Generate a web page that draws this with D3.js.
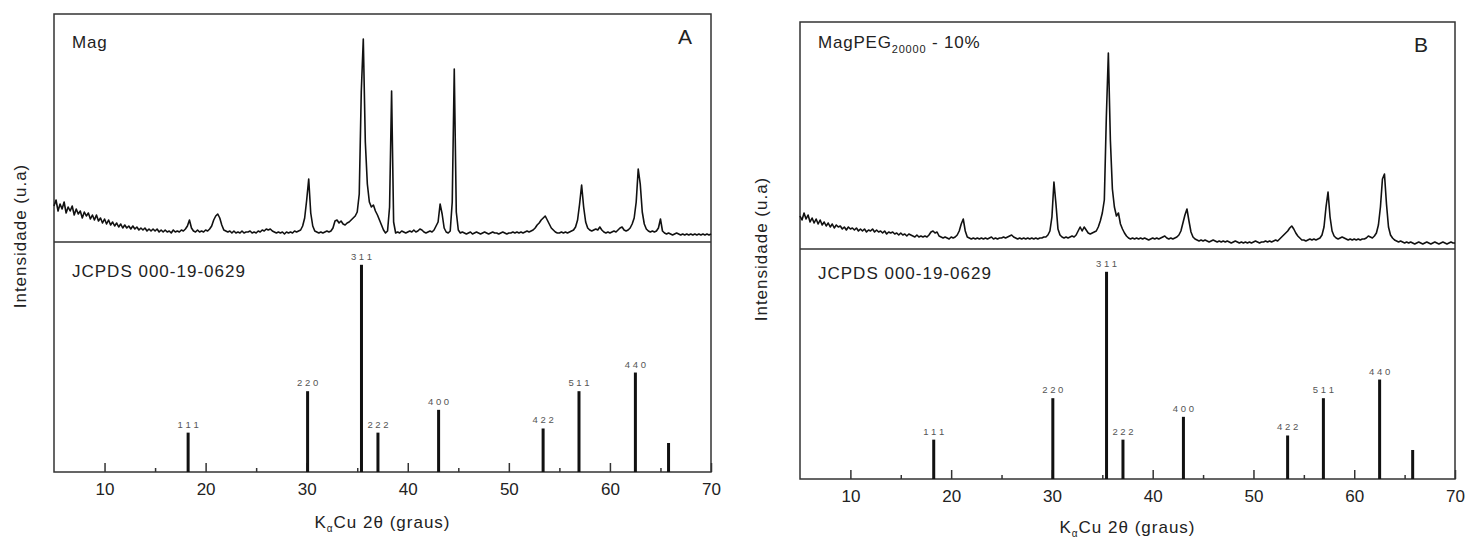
<!DOCTYPE html>
<html>
<head>
<meta charset="utf-8">
<script src="https://cdn.jsdelivr.net/npm/d3@7"></script>
<style>
  body { margin: 0; background: #fff; }
  svg text { font-family: "Liberation Sans", Arial, sans-serif; fill: #222; }
</style>
</head>
<body>
<div id="chart"></div>
<script>

// XRD scans: start angle and step (2θ, degrees), counts
const scanStart = 5;
const scanStep = 0.2;

// Mag (panel A)
const magCounts = [
  36, 42, 31, 38, 33, 40, 29, 35, 31, 36,
  27, 33, 28, 31, 24, 30, 26, 29, 23, 27,
  22, 27, 21, 24, 19, 23, 18, 22, 17, 20,
  16, 19, 15, 18, 14, 17, 14, 16, 13, 16,
  13, 15, 12, 14, 12, 14, 11, 13, 11, 13,
  11, 13, 10, 12, 10, 12, 10, 11, 9, 12,
  10, 11, 10, 12, 11, 13, 16, 22, 14, 11,
  10, 12, 10, 11, 10, 12, 11, 13, 16, 22,
  26, 28, 24, 17, 12, 11, 10, 11, 9, 11,
  9, 10, 9, 11, 9, 10, 10, 11, 9, 10,
  9, 11, 10, 12, 11, 13, 12, 13, 11, 10,
  9, 10, 9, 10, 8, 10, 9, 10, 9, 11,
  10, 11, 12, 16, 24, 42, 63, 29, 16, 11,
  10, 9, 10, 9, 10, 11, 10, 11, 14, 21,
  22, 19, 21, 18, 17, 19, 20, 22, 24, 26,
  30, 48, 150, 203, 100, 58, 40, 35, 37, 31,
  27, 22, 17, 12, 9, 11, 35, 151, 20, 9,
  10, 9, 11, 10, 9, 10, 11, 10, 12, 10,
  11, 13, 12, 10, 9, 10, 11, 10, 12, 16,
  20, 38, 28, 14, 10, 9, 11, 40, 173, 30,
  12, 9, 10, 9, 8, 9, 10, 8, 9, 10,
  9, 8, 9, 10, 9, 8, 9, 10, 9, 9,
  8, 9, 10, 9, 8, 9, 9, 10, 9, 10,
  9, 10, 9, 10, 11, 10, 11, 12, 14, 17,
  19, 22, 24, 26, 22, 18, 14, 12, 10, 9,
  9, 10, 9, 10, 9, 10, 11, 12, 15, 22,
  38, 57, 35, 20, 14, 12, 11, 12, 13, 12,
  15, 12, 10, 9, 10, 9, 10, 11, 10, 12,
  14, 15, 12, 11, 12, 14, 18, 24, 40, 73,
  58, 30, 18, 13, 11, 10, 11, 10, 11, 14,
  23, 11, 9, 8, 9, 8, 7, 8, 9, 8,
  7, 8, 7, 8, 7, 8, 7, 8, 7, 8,
  7, 8, 7, 8, 7, 8
];

// MagPEG20000 - 10% (panel B)
const magPegCounts = [
  33, 29, 36, 30, 34, 27, 31, 26, 30, 25,
  29, 24, 27, 23, 26, 22, 25, 21, 24, 22,
  23, 20, 22, 19, 22, 20, 21, 19, 21, 18,
  20, 18, 20, 17, 19, 18, 20, 17, 19, 17,
  18, 16, 18, 15, 17, 16, 17, 15, 16, 14,
  16, 14, 15, 13, 15, 14, 13, 12, 14, 12,
  13, 12, 13, 12, 14, 17, 18, 16, 17, 13,
  12, 11, 12, 11, 10, 12, 11, 12, 14, 18,
  25, 30, 18, 12, 11, 10, 11, 10, 11, 10,
  11, 10, 11, 10, 11, 12, 10, 11, 10, 11,
  11, 12, 11, 12, 13, 14, 12, 11, 10, 11,
  10, 11, 10, 11, 10, 11, 10, 11, 10, 11,
  11, 12, 12, 14, 18, 32, 67, 45, 20, 14,
  12, 11, 12, 11, 12, 13, 12, 14, 18, 22,
  18, 22, 19, 16, 15, 16, 17, 18, 22, 28,
  36, 49, 132, 196, 109, 60, 42, 33, 36, 25,
  20, 16, 13, 11, 10, 11, 10, 11, 10, 11,
  10, 11, 10, 9, 10, 11, 10, 11, 10, 11,
  12, 13, 11, 10, 11, 10, 11, 12, 14, 18,
  26, 34, 40, 28, 17, 12, 10, 9, 8, 9,
  8, 9, 8, 7, 8, 9, 8, 7, 8, 7,
  8, 7, 8, 7, 6, 7, 8, 7, 6, 7,
  6, 7, 6, 7, 6, 7, 8, 7, 6, 7,
  7, 8, 7, 8, 7, 8, 9, 8, 10, 12,
  14, 16, 18, 21, 23, 20, 16, 13, 11, 9,
  9, 8, 9, 10, 9, 10, 9, 10, 11, 14,
  22, 42, 57, 32, 18, 13, 11, 10, 11, 12,
  11, 10, 9, 10, 9, 10, 9, 10, 9, 10,
  10, 11, 13, 12, 11, 13, 16, 24, 42, 70,
  75, 45, 22, 14, 11, 9, 8, 7, 8, 7,
  6, 7, 6, 7, 6, 5, 6, 7, 6, 5,
  6, 7, 6, 5, 6, 7, 6, 5, 6, 7,
  6, 5, 6, 7, 6, 6
];

// JCPDS 000-19-0629 reference lines
const refAngles = [18.27, 30.09, 35.42, 37.05, 43.05, 53.39, 56.94, 62.52, 65.8];
const refIntensity = [19, 39, 100, 19, 30, 21, 39, 48, 14];
const refHkl = ["1 1 1", "2 2 0", "3 1 1", "2 2 2", "4 0 0", "4 2 2", "5 1 1", "4 4 0", ""];

const majorTicks = [10, 20, 30, 40, 50, 60, 70];
const minorTicks = [15, 25, 35, 45, 55, 65];

const width = 1468;
const height = 539;

const svg = d3.select("#chart")
  .append("svg")
  .attr("width", width)
  .attr("height", height);

const panels = [
  {left: 54, right: 711, top: 14, mid: 242, bottom: 472, counts: magCounts,
   letter: "A", letterX: 678, letterY: 44, titleY: 528, yTitleX: 20, yTitleY: 236,
   sample: ["Mag"], sampleX: 72, sampleY: 48, refY: 277},
  {left: 800, right: 1455, top: 22, mid: 249, bottom: 479, counts: magPegCounts,
   letter: "B", letterX: 1414, letterY: 52, titleY: 533, yTitleX: 761, yTitleY: 249,
   sample: ["MagPEG", "20000", " - 10%"], sampleX: 818, sampleY: 48, refY: 279}
];

panels.forEach(p => {

  const g = svg.append("g");

  const x = d3.scaleLinear().domain([5, 70]).range([p.left, p.right]);
  // upper band: measured pattern
  const yScan = d3.scaleLinear().domain([0, 228]).range([p.mid, p.mid - 228]);
  // lower band: reference sticks (relative intensity %)
  const yRef = d3.scaleLinear().domain([0, 111]).range([p.bottom, p.bottom - 230]);

  // frame + divider
  g.append("rect")
    .attr("x", p.left).attr("y", p.top)
    .attr("width", p.right - p.left).attr("height", p.bottom - p.top)
    .attr("fill", "none").attr("stroke", "#333").attr("stroke-width", 1.5);
  g.append("line")
    .attr("x1", p.left).attr("x2", p.right)
    .attr("y1", p.mid).attr("y2", p.mid)
    .attr("stroke", "#333").attr("stroke-width", 1.5);

  // axis, ticks pointing inward
  g.append("g")
    .attr("transform", `translate(0,${p.bottom})`)
    .call(d3.axisBottom(x).tickValues(majorTicks).tickSizeInner(-9).tickSizeOuter(0)
      .tickPadding(11).tickFormat(d3.format("d")))
    .call(a => a.select(".domain").remove())
    .attr("font-family", null)
    .attr("font-size", "17px")
    .attr("color", "#333")
    .selectAll("line").attr("stroke-width", 1.5);

  g.append("g")
    .attr("transform", `translate(0,${p.bottom})`)
    .call(d3.axisBottom(x).tickValues(minorTicks).tickSizeInner(-4).tickSizeOuter(0)
      .tickFormat(""))
    .call(a => a.select(".domain").remove())
    .attr("color", "#333")
    .selectAll("line").attr("stroke-width", 1.5);

  // measured pattern
  const line = d3.line()
    .x((d, i) => x(scanStart + i * scanStep))
    .y(d => yScan(d));

  g.append("path")
    .datum(p.counts)
    .attr("d", line)
    .attr("fill", "none")
    .attr("stroke", "#111")
    .attr("stroke-width", 1.6)
    .attr("stroke-linejoin", "round");

  // reference sticks
  g.selectAll(".stick")
    .data(refAngles)
    .enter()
    .append("rect")
      .attr("class", "stick")
      .attr("x", d => x(d) - 1.5)
      .attr("y", (d, i) => yRef(refIntensity[i]))
      .attr("width", 3)
      .attr("height", (d, i) => p.bottom - yRef(refIntensity[i]))
      .attr("fill", "#111");

  g.selectAll(".hkl")
    .data(refAngles)
    .enter()
    .append("text")
      .attr("class", "hkl")
      .attr("x", d => x(d))
      .attr("y", (d, i) => yRef(refIntensity[i]) - 5)
      .attr("text-anchor", "middle")
      .attr("font-size", "9.5px")
      .style("fill", "#555")
      .text((d, i) => refHkl[i]);

  // labels
  const sample = g.append("text")
    .attr("x", p.sampleX).attr("y", p.sampleY)
    .attr("font-size", "17px")
    .attr("letter-spacing", "0.8px");
  sample.append("tspan").text(p.sample[0]);
  if (p.sample.length > 1) {
    sample.append("tspan").attr("font-size", "11px").attr("dy", 5).text(p.sample[1]);
    sample.append("tspan").attr("dy", -5).text(p.sample[2]);
  }

  g.append("text")
    .attr("x", p.letterX).attr("y", p.letterY)
    .attr("font-size", "21px")
    .text(p.letter);

  g.append("text")
    .attr("x", p.sampleX).attr("y", p.refY)
    .attr("font-size", "17px")
    .attr("letter-spacing", "1px")
    .text("JCPDS 000-19-0629");

  const xt = g.append("text")
    .attr("x", (p.left + p.right) / 2).attr("y", p.titleY)
    .attr("text-anchor", "middle")
    .attr("font-size", "17px")
    .attr("letter-spacing", "1px");
  xt.append("tspan").text("K");
  xt.append("tspan").attr("font-size", "10px").attr("dy", 4).text("α");
  xt.append("tspan").attr("dy", -4).text("Cu 2θ (graus)");

  g.append("text")
    .attr("transform", `translate(${p.yTitleX},${p.yTitleY}) rotate(-90)`)
    .attr("text-anchor", "middle")
    .attr("dy", "0.35em")
    .attr("font-size", "17px")
    .attr("letter-spacing", "1px")
    .text("Intensidade (u.a)");
});

</script>
</body>
</html>
